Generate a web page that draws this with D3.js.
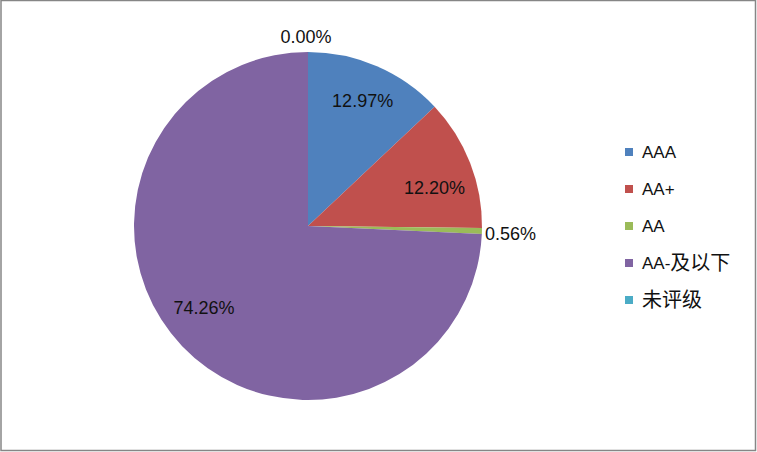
<!DOCTYPE html>
<html><head><meta charset="utf-8">
<script src="https://cdn.jsdelivr.net/npm/d3@7/dist/d3.min.js"></script>
<style>body{margin:0;background:#fff}svg{display:block}</style>
</head><body>
<svg id="c" width="757" height="452"></svg>
<script>
const categories = ["AAA", "AA+", "AA", "AA-及以下", "未评级"];
const values = [12.97, 12.20, 0.56, 74.26, 0.00];
const labels = ["12.97%", "12.20%", "0.56%", "74.26%", "0.00%"];
const colors = ["#4F81BD", "#C0504D", "#9BBB59", "#8064A2", "#4BACC6"];

const svg = d3.select("#c");
const W = 757, H = 452;
svg.append("rect").attr("x", 1).attr("y", 0.5).attr("width", W - 2.5).attr("height", H - 2)
  .attr("fill", "#fff").attr("stroke", "#868686").attr("stroke-width", 1.5);

const cx = 308, cy = 226, R = 174;
const data = categories.map((c, i) => ({c, v: values[i], label: labels[i], color: colors[i]}));
const pie = d3.pie().sort(null).value(d => d.v);
const arcs = pie(data);
const arc = d3.arc().innerRadius(0).outerRadius(R);
const g = svg.append("g").attr("transform", `translate(${cx},${cy})`);
g.selectAll("path").data(arcs).join("path")
  .attr("d", arc).attr("fill", d => d.data.color);

const font = "'Liberation Sans', 'Noto Sans CJK SC', sans-serif";
// layout-only label placement tweaks (degrees) to mimic Excel best-fit
const angleShift = [0.2, 4.8, 0, 5.3, 0];
const labelR = [136.8, 132, 0, 132.7, 0];
arcs.forEach((a, i) => {
  const mid = (a.startAngle + a.endAngle) / 2;
  let x, y, anchor = "middle";
  if (a.data.v > 5) {
    const ang = mid + angleShift[i] * Math.PI / 180;
    x = Math.sin(ang) * labelR[i]; y = -Math.cos(ang) * labelR[i];
  } else if (a.data.v === 0) {
    x = -2; y = -189.5;
  } else {
    x = Math.sin(mid) * (R + 3); y = -Math.cos(mid) * (R + 3) + 2.5;
    anchor = "start";
  }
  g.append("text").attr("x", x).attr("y", y).attr("text-anchor", anchor)
    .attr("dominant-baseline", "central")
    .attr("font-family", font).attr("font-size", 18).attr("fill", "#111")
    .text(a.data.label);
});

const legend = svg.append("g");
const ly = d3.scalePoint().domain(categories).range([152, 300]);
categories.forEach((c, i) => {
  legend.append("rect").attr("x", 625).attr("y", ly(c) - 4).attr("width", 8).attr("height", 8)
    .attr("fill", colors[i]);
  const t = legend.append("text").attr("x", 642).attr("y", ly(c)).attr("dominant-baseline", "central")
    .attr("font-family", font).attr("font-size", 17).attr("fill", "#111");
  // split Latin and CJK runs so CJK glyphs can be sized like the reference
  const runs = c.match(/[\u4e00-\u9fff]+|[^\u4e00-\u9fff]+/g);
  runs.forEach(r => {
    const cjk = /[\u4e00-\u9fff]/.test(r);
    t.append("tspan").attr("font-size", cjk ? 20 : 17).text(r);
  });
});
</script>
</body></html>
